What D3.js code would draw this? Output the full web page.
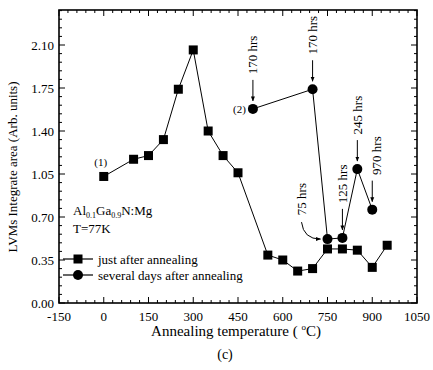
<!DOCTYPE html>
<html>
<head>
<meta charset="utf-8">
<script src="https://cdn.jsdelivr.net/npm/d3@7/dist/d3.min.js"></script>
<style>
  body{margin:0;background:#fff;}
  svg{display:block;font-family:"Liberation Serif","DejaVu Serif",serif;}
</style>
</head>
<body>
<div id="chart"></div>
<script>
// values
const justTemps = [0, 100, 150, 200, 250, 300, 350, 400, 450, 550, 600, 650, 700, 750, 800, 850, 900, 950];
const justVals  = [1.03, 1.17, 1.20, 1.33, 1.74, 2.06, 1.40, 1.20, 1.06, 0.39, 0.35, 0.26, 0.28, 0.44, 0.44, 0.43, 0.29, 0.47];

const laterTemps = [500, 700, 750, 800, 850, 900];
const laterVals  = [1.58, 1.74, 0.52, 0.53, 1.09, 0.76];
const laterHours = ["170 hrs", "170 hrs", "75 hrs", "125 hrs", "245 hrs", "970 hrs"];

const xTicks = [-150, 0, 150, 300, 450, 600, 750, 900, 1050];
const yTicks = [0.00, 0.35, 0.70, 1.05, 1.40, 1.75, 2.10];

const W = 433, H = 370;
const mLeft = 59, mRight = 417, mTop = 10, mBottom = 303;

const svg = d3.select("#chart").append("svg")
  .attr("width", W).attr("height", H);

const x = d3.scaleLinear().domain([-150, 1050]).range([mLeft, mRight]);
const y = d3.scaleLinear().domain([0, 2.385]).range([mBottom, mTop]);

// frame
svg.append("rect")
  .attr("x", mLeft).attr("y", mTop)
  .attr("width", mRight - mLeft).attr("height", mBottom - mTop)
  .attr("fill", "none").attr("stroke", "#000").attr("stroke-width", 1.6);

// ticks (inward, all four sides)
const xMinor = d3.range(-150, 1051, 30);
const yMinor = d3.range(0, 2.385, 0.07);

const tg = svg.append("g").attr("stroke", "#000").attr("stroke-width", 1);
xMinor.forEach(v => {
  const major = xTicks.includes(Math.round(v));
  const len = major ? 6 : 3;
  tg.append("line").attr("x1", x(v)).attr("x2", x(v)).attr("y1", mBottom).attr("y2", mBottom - len);
  tg.append("line").attr("x1", x(v)).attr("x2", x(v)).attr("y1", mTop).attr("y2", mTop + len);
});
yMinor.forEach((v, i) => {
  const major = i % 5 === 0;
  const len = major ? 6 : 3;
  tg.append("line").attr("x1", mLeft).attr("x2", mLeft + len).attr("y1", y(v)).attr("y2", y(v));
  tg.append("line").attr("x1", mRight).attr("x2", mRight - len).attr("y1", y(v)).attr("y2", y(v));
});

// tick labels
svg.append("g").selectAll("text").data(xTicks).join("text")
  .attr("x", d => x(d)).attr("y", 321)
  .attr("text-anchor", "middle").attr("font-size", 13)
  .text(d => d);

svg.append("g").selectAll("text").data(yTicks).join("text")
  .attr("x", 54).attr("y", d => y(d) + 4.5)
  .attr("text-anchor", "end").attr("font-size", 13)
  .text(d => d.toFixed(2));

// axis titles
svg.append("text")
  .attr("x", 236).attr("y", 336)
  .attr("text-anchor", "middle").attr("font-size", 15)
  .html('Annealing temperature ( <tspan dy="-6" font-size="9">o</tspan><tspan dy="6">C)</tspan>');

svg.append("text")
  .attr("x", 225).attr("y", 359)
  .attr("text-anchor", "middle").attr("font-size", 14)
  .text("(c)");

svg.append("text")
  .attr("transform", "translate(17,167) rotate(-90)")
  .attr("text-anchor", "middle").attr("font-size", 13)
  .text("LVMs Integrate area (Arb. units)");

// series lines
const line = d3.line().x(d => x(d[0])).y(d => y(d[1]));

svg.append("path")
  .datum(d3.zip(justTemps, justVals))
  .attr("d", line).attr("fill", "none").attr("stroke", "#000").attr("stroke-width", 1);

svg.append("path")
  .datum(d3.zip(laterTemps, laterVals))
  .attr("d", line).attr("fill", "none").attr("stroke", "#000").attr("stroke-width", 1);

// markers
svg.append("g").selectAll("rect").data(d3.zip(justTemps, justVals)).join("rect")
  .attr("x", d => x(d[0]) - 4.5).attr("y", d => y(d[1]) - 4.5)
  .attr("width", 9).attr("height", 9).attr("fill", "#000");

svg.append("g").selectAll("circle").data(d3.zip(laterTemps, laterVals)).join("circle")
  .attr("cx", d => x(d[0])).attr("cy", d => y(d[1])).attr("r", 5).attr("fill", "#000");

// series labels (1) and (2)
svg.append("text").attr("x", x(0) - 3).attr("y", y(1.03) - 10)
  .attr("text-anchor", "middle").attr("font-size", 11).text("(1)");
svg.append("text").attr("x", x(500) - 7).attr("y", y(1.58) + 4)
  .attr("text-anchor", "end").attr("font-size", 11).text("(2)");

// hour annotations
svg.append("defs").append("marker")
  .attr("id", "ah").attr("viewBox", "0 0 10 10")
  .attr("refX", 9).attr("refY", 5)
  .attr("markerWidth", 5).attr("markerHeight", 5)
  .attr("orient", "auto-start-reverse")
  .append("path").attr("d", "M0,1 L10,5 L0,9 Z").attr("fill", "#000");

const ann = svg.append("g");
laterTemps.forEach((t, i) => {
  const px = x(t), py = y(laterVals[i]);
  if (laterHours[i] === "75 hrs") {
    ann.append("text")
      .attr("transform", `translate(${px - 26},${py - 40}) rotate(-90)`)
      .attr("text-anchor", "middle").attr("dy", 4.5).attr("font-size", 13)
      .text(laterHours[i]);
    ann.append("path")
      .attr("d", `M${px - 26},${py - 17} Q${px - 24},${py} ${px - 7},${py}`)
      .attr("fill", "none").attr("stroke", "#000").attr("stroke-width", 1)
      .attr("marker-end", "url(#ah)");
    return;
  }
  const dxText = t === 900 ? 4 : 0;
  ann.append("text")
    .attr("transform", `translate(${px + dxText},${py - 54}) rotate(-90)`)
    .attr("text-anchor", "middle").attr("dy", 4.5).attr("font-size", 13)
    .text(laterHours[i]);
  ann.append("line")
    .attr("x1", px).attr("x2", px)
    .attr("y1", py - 29).attr("y2", py - 8)
    .attr("stroke", "#000").attr("stroke-width", 1)
    .attr("marker-end", "url(#ah)");
});

// sample label
const info = svg.append("g").attr("font-size", 13);
info.append("text").attr("x", 73).attr("y", 215)
  .html('Al<tspan dy="2.5" font-size="8">0.1</tspan><tspan dy="-2.5">Ga</tspan><tspan dy="2.5" font-size="8">0.9</tspan><tspan dy="-2.5">N:Mg</tspan>');
info.append("text").attr("x", 73).attr("y", 233).text("T=77K");

// legend
const legend = [
  {label: "just after annealing", shape: "square", y: 259},
  {label: "several days after annealing", shape: "circle", y: 275}
];
legend.forEach(l => {
  svg.append("line").attr("x1", 63).attr("x2", 93).attr("y1", l.y).attr("y2", l.y)
    .attr("stroke", "#000").attr("stroke-width", 1.2);
  if (l.shape === "square") {
    svg.append("rect").attr("x", 73.5).attr("y", l.y - 4.5).attr("width", 9).attr("height", 9);
  } else {
    svg.append("circle").attr("cx", 78).attr("cy", l.y).attr("r", 5);
  }
  svg.append("text").attr("x", 98).attr("y", l.y + 4.5).attr("font-size", 13).text(l.label);
});
</script>
</body>
</html>
